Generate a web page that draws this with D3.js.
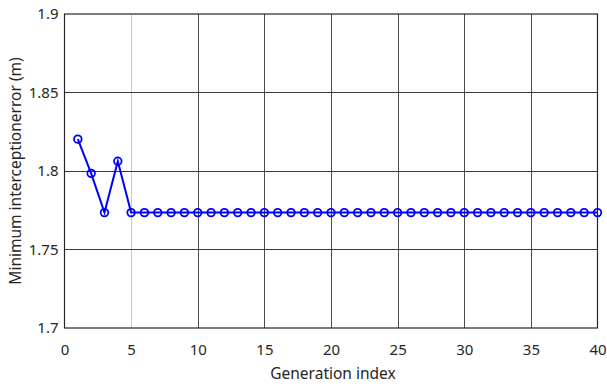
<!DOCTYPE html>
<html><head><meta charset="utf-8">
<script src="https://cdn.jsdelivr.net/npm/d3@7"></script>
<style>body{margin:0;background:#fff;} text{font-family:"Noto Sans","DejaVu Sans",sans-serif;}</style>
</head><body>
<svg id="c" width="607" height="388"></svg>
<script>
const generations = d3.range(1, 41);
const minError = [1.8203, 1.7985, 1.7735, 1.8062,
  1.7735, 1.7735, 1.7735, 1.7735, 1.7735, 1.7735, 1.7735, 1.7735, 1.7735, 1.7735,
  1.7735, 1.7735, 1.7735, 1.7735, 1.7735, 1.7735, 1.7735, 1.7735, 1.7735, 1.7735,
  1.7735, 1.7735, 1.7735, 1.7735, 1.7735, 1.7735, 1.7735, 1.7735, 1.7735, 1.7735,
  1.7735, 1.7735, 1.7735, 1.7735, 1.7735, 1.7735];
const xTicks = [0, 5, 10, 15, 20, 25, 30, 35, 40];
const yTicks = [1.7, 1.75, 1.8, 1.85, 1.9];
const xLabel = "Generation index";
const yLabel = "Minimum interceptionerror (m)";

const L = 64.5, R = 597.5, T = 14, B = 328;
const svg = d3.select("#c");
const x = d3.scaleLinear().domain([0, 40]).range([L, R]);
const y = d3.scaleLinear().domain([1.7, 1.9]).range([B, T]);

// grid
const g = svg.append("g");
g.selectAll(".gx").data(xTicks.slice(1, -1)).enter().append("line")
  .attr("x1", d => Math.round(x(d)) + 0.5).attr("x2", d => Math.round(x(d)) + 0.5)
  .attr("y1", T).attr("y2", B)
  .attr("stroke", d => d === 5 ? "#c8c8c8" : "#4a4a4a").attr("stroke-width", 1);
g.selectAll(".gy").data(yTicks.slice(1, -1)).enter().append("line")
  .attr("y1", d => Math.round(y(d)) + 0.5).attr("y2", d => Math.round(y(d)) + 0.5)
  .attr("x1", L).attr("x2", R)
  .attr("stroke", "#3a3a3a").attr("stroke-width", 1);

// axes
const xAxis = d3.axisBottom(x).tickValues(xTicks).tickSize(0).tickPadding(16).tickFormat(d3.format("d"));
const yAxis = d3.axisLeft(y).tickValues(yTicks).tickSize(0).tickPadding(6).tickFormat(d => String(d));
const gx = svg.append("g").attr("transform", `translate(0,${B})`).call(xAxis);
const gy = svg.append("g").attr("transform", `translate(${L},0)`).call(yAxis);
[gx, gy].forEach(a => {
  a.select(".domain").remove();
  a.selectAll("text").attr("font-size", 15).attr("fill", "#262626");
});
// box
svg.append("rect").attr("x", L).attr("y", T).attr("width", R - L).attr("height", B - T)
  .attr("fill", "none").attr("stroke", "#262626").attr("stroke-width", 1.2);

// line + markers
const data = generations.map((g, i) => [g, minError[i]]);
svg.append("path").datum(data)
  .attr("d", d3.line().x(d => x(d[0])).y(d => y(d[1])))
  .attr("fill", "none").attr("stroke", "#0000ff").attr("stroke-width", 2);
svg.selectAll(".m").data(data).enter().append("circle")
  .attr("cx", d => x(d[0])).attr("cy", d => y(d[1])).attr("r", 3.8)
  .attr("fill", "none").attr("stroke", "#0000ff").attr("stroke-width", 1.8);

// labels
svg.append("text").attr("x", 333).attr("y", 379).attr("text-anchor", "middle")
  .attr("font-size", 15.5).attr("fill", "#262626").text(xLabel);
svg.append("text").attr("transform", `translate(21,${(T + B) / 2}) rotate(-90)`)
  .attr("text-anchor", "middle").attr("font-size", 15.5).attr("fill", "#262626").text(yLabel);
</script>
</body></html>
